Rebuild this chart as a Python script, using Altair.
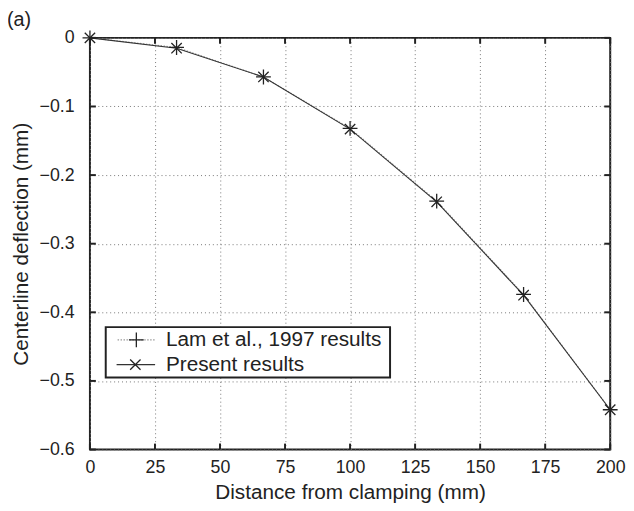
import altair as alt
import pandas as pd

# ---- data ----
x_mm = [0, 33.3, 66.7, 100, 133.3, 166.7, 200]
lam_defl = [0, -0.014, -0.057, -0.132, -0.238, -0.374, -0.542]
present_defl = [0, -0.015, -0.057, -0.133, -0.239, -0.375, -0.542]
series_names = ["Lam et al., 1997 results", "Present results"]
x_ticks = [0, 25, 50, 75, 100, 125, 150, 175, 200]
y_ticks = [-0.6, -0.5, -0.4, -0.3, -0.2, -0.1, 0]

W, H = 527, 417
FONT = "Liberation Sans"
INK = "#222222"
PLUS = "M-1,0H1M0,-1V1"
CROSS = "M-0.7,-0.7L0.7,0.7M-0.7,0.7L0.7,-0.7"

df = pd.DataFrame({
    "x": x_mm * 2,
    "y": lam_defl + present_defl,
    "series": [series_names[0]] * len(x_mm) + [series_names[1]] * len(x_mm),
})
lam_df = df[df.series == series_names[0]]
pres_df = df[df.series == series_names[1]]
xt_df = pd.DataFrame({"x": x_ticks})
yt_df = pd.DataFrame({"y": y_ticks})
one = pd.DataFrame({"k": [0]})

xs = alt.Scale(domain=[0, 200], nice=False, zero=False)
ys = alt.Scale(domain=[-0.6, 0], nice=False, zero=False)

x_axis = alt.Axis(
    values=x_ticks, format="d", title="Distance from clamping (mm)",
    domain=False, ticks=False, tickSize=0, labelPadding=9, labelFlush=False,
    grid=True, gridDash=[1, 3], gridColor="#777777", gridWidth=1,
    labelFont=FONT, labelFontSize=18, labelColor=INK,
    titleFont=FONT, titleFontSize=21, titleFontWeight="normal", titleColor=INK,
    titleY=50, titleBaseline="alphabetic",
)
y_axis = alt.Axis(
    values=y_ticks, format=".1~f", title="Centerline deflection (mm)",
    domain=False, ticks=False, tickSize=0, labelPadding=16, labelFlush=False,
    grid=True, gridDash=[1, 3], gridColor="#777777", gridWidth=1,
    labelFont=FONT, labelFontSize=18, labelColor=INK,
    titleFont=FONT, titleFontSize=21, titleFontWeight="normal", titleColor=INK,
    titleX=-69, titleY=H / 2, titleBaseline="middle", titleAlign="center", titleAngle=270,
)

X = alt.X("x:Q", scale=xs, axis=x_axis)
Y = alt.Y("y:Q", scale=ys, axis=y_axis)

lam_line = alt.Chart(lam_df).mark_line(
    color="#9a9a9a", strokeWidth=1.2, strokeDash=[1.5, 1.5]
).encode(x=X, y=Y)
pres_line = alt.Chart(pres_df).mark_line(color="#333333", strokeWidth=1.1).encode(x=X, y=Y)
lam_pts = alt.Chart(lam_df).mark_point(
    shape=PLUS, size=225, filled=False, color=INK, strokeWidth=1.3, opacity=1
).encode(x=X, y=Y)
pres_pts = alt.Chart(pres_df).mark_point(
    shape=CROSS, size=225, filled=False, color=INK, strokeWidth=1.3, opacity=1
).encode(x=X, y=Y)

# inward ticks on all four sides
tick_style = dict(color=INK, strokeWidth=2)
xt_bottom = alt.Chart(xt_df).mark_rule(**tick_style).encode(
    x=X, y=alt.value(H), y2=alt.value(H - 6))
xt_top = alt.Chart(xt_df).mark_rule(**tick_style).encode(
    x=X, y=alt.value(0), y2=alt.value(6))
yt_left = alt.Chart(yt_df).mark_rule(**tick_style).encode(
    y=Y, x=alt.value(0), x2=alt.value(6))
yt_right = alt.Chart(yt_df).mark_rule(**tick_style).encode(
    y=Y, x=alt.value(W), x2=alt.value(W - 6))

# legend (drawn by hand, MATLAB style)
box = alt.Chart(one).mark_rect(fill="white", stroke=INK, strokeWidth=2).encode(
    x=alt.value(16), x2=alt.value(304), y=alt.value(293), y2=alt.value(344))
r1y, r2y = 306, 331
leg_line1 = alt.Chart(one).mark_rule(color="#9a9a9a", strokeWidth=1.2, strokeDash=[1.5, 1.5]).encode(
    x=alt.value(28), x2=alt.value(67), y=alt.value(r1y))
leg_line2 = alt.Chart(one).mark_rule(color="#333333", strokeWidth=1.1).encode(
    x=alt.value(27), x2=alt.value(66), y=alt.value(r2y))
leg_pt1 = alt.Chart(one).mark_point(shape=PLUS, size=225, filled=False, color=INK,
                                    strokeWidth=1.3, opacity=1).encode(
    x=alt.value(47), y=alt.value(r1y))
leg_pt2 = alt.Chart(one).mark_point(shape=CROSS, size=225, filled=False, color=INK,
                                    strokeWidth=1.3, opacity=1).encode(
    x=alt.value(46), y=alt.value(r2y))
leg_txt1 = alt.Chart(one).mark_text(align="left", baseline="middle", font=FONT,
                                    fontSize=21, color=INK).encode(
    x=alt.value(77), y=alt.value(r1y), text=alt.value(series_names[0]))
leg_txt2 = alt.Chart(one).mark_text(align="left", baseline="middle", font=FONT,
                                    fontSize=21, color=INK).encode(
    x=alt.value(77), y=alt.value(r2y), text=alt.value(series_names[1]))

panel = alt.Chart(one).mark_text(align="left", baseline="middle", font=FONT,
                                 fontSize=20, color=INK).encode(
    x=alt.value(-84), y=alt.value(-18), text=alt.value("(a)"))

chart = alt.layer(
    lam_line, pres_line, lam_pts, pres_pts,
    xt_bottom, xt_top, yt_left, yt_right,
    box, leg_line1, leg_line2, leg_pt1, leg_pt2, leg_txt1, leg_txt2,
    panel,
).properties(
    width=W, height=H,
    autosize=alt.AutoSizeParams(type="none"),
    padding={"left": 83, "top": 27, "right": 16, "bottom": 59},
    background="white",
).configure_view(
    stroke=INK, strokeWidth=2
)

chart.save("out.html", embed_options={"renderer": "svg", "actions": False})
